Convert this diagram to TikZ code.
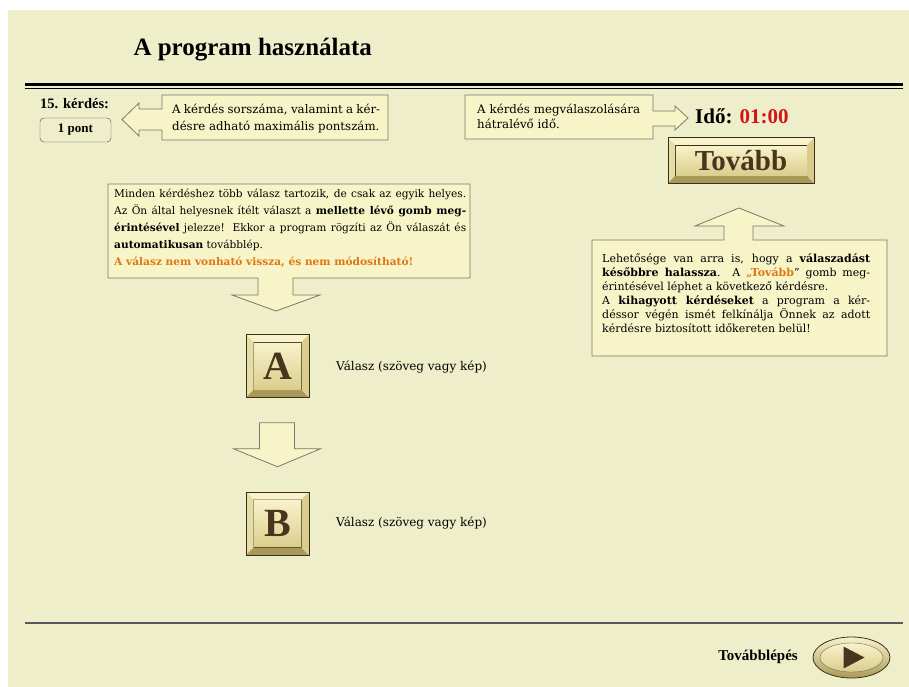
\documentclass[tikz,border=0pt]{standalone}
\usepackage{fontspec}
\setmainfont{Liberation Serif}
\newfontfamily\boxfont{DejaVu Serif}
\usetikzlibrary{calc,shapes.geometric}

\definecolor{pagebg}{RGB}{239,238,202}
\definecolor{notefill}{RGB}{247,244,200}
\definecolor{noteline}{RGB}{118,122,104}
\definecolor{warnorange}{RGB}{222,118,20}
\definecolor{timered}{RGB}{210,20,20}
\definecolor{btnbrown}{RGB}{75,52,30}
\definecolor{goldhi}{RGB}{248,243,204}
\definecolor{goldmid}{RGB}{218,205,140}
\definecolor{goldlo}{RGB}{170,152,88}
\definecolor{golddk}{RGB}{58,48,24}

\tikzset{
  note/.style={draw=noteline, fill=notefill, line width=0.8pt},
  notetext/.style={anchor=west, inner sep=0pt, align=justify},
  face/.style={draw=golddk, line width=0.6pt, inner sep=0pt, outer sep=0pt,
    top color=goldhi, bottom color=goldmid, text=btnbrown},
}

% gold bevel round a face node: #1 node, #2 frame width
\newcommand{\goldframe}[2]{
  \coordinate (#1-onw) at ($(#1.north west)+(-#2,-#2)$);
  \coordinate (#1-one) at ($(#1.north east)+(#2,-#2)$);
  \coordinate (#1-ose) at ($(#1.south east)+(#2,#2)$);
  \coordinate (#1-osw) at ($(#1.south west)+(-#2,#2)$);
  \fill[goldhi] (#1-onw) -- (#1-one) -- (#1.north east) -- (#1.north west) -- cycle;
  \fill[goldmid!60!goldhi] (#1-onw) -- (#1.north west) -- (#1.south west) -- (#1-osw) -- cycle;
  \fill[goldlo] (#1-osw) -- (#1-ose) -- (#1.south east) -- (#1.south west) -- cycle;
  \fill[goldmid] (#1-one) -- (#1-ose) -- (#1.south east) -- (#1.north east) -- cycle;
  \draw[golddk, line width=1pt] (#1-onw) rectangle (#1-ose);
}

\begin{document}
\begin{tikzpicture}[x=1pt,y=-1pt]
\useasboundingbox (0,0) rectangle (909,687);
\fill[white] (0,0) rectangle (909,687);
\fill[pagebg] (8,10) rectangle (909,687);

\node[anchor=west, font=\bfseries\fontsize{25}{28}\selectfont] (title) at (130,50) {A program használata};
\draw[line width=3pt] (25,84.5) -- (903,84.5);
\draw[line width=1.5pt] (25,88.5) -- (903,88.5);

\node[anchor=west, inner sep=0pt, font=\bfseries\fontsize{14.5}{16}\selectfont] (qnum) at (40,104) {15. kérdés:};
\node[draw=black!70, rounded corners=4pt, minimum width=71, minimum height=24, font=\bfseries\fontsize{13}{15}\selectfont] (points) at (75.5,130) {1 pont};

\path[note] (162,95) -- (388,95) -- (388,140) -- (162,140) -- (162,130) -- (139,130) -- (139,136)
  -- (122,119.5) -- (139,103) -- (139,109) -- (162,109) -- cycle;
\node[notetext, text width=208, font=\boxfont\fontsize{11.8}{17}\selectfont] (qinfo) at (172,119)
  {A kérdés sorszáma, valamint a kér-\linebreak désre adható maximális pontszám.};

\path[note] (465,95) -- (653,95) -- (653,111) -- (675,111) -- (675,106) -- (688,118) -- (675,130)
  -- (675,126) -- (653,126) -- (653,139) -- (465,139) -- cycle;
\node[notetext, text width=172, align=left, font=\boxfont\fontsize{11.8}{15}\selectfont] (tinfo) at (477,116)
  {A kérdés megválaszolására\\hátralévő idő.};

\node[anchor=west, inner sep=0pt, font=\bfseries\fontsize{21}{24}\selectfont] (time) at (695,116) {Idő: \textcolor{timered}{01:00}};

\node[face, minimum width=132, minimum height=31, font=\bfseries\fontsize{29}{30}\selectfont] (next) at (741,160.5) {Tovább};
\goldframe{next}{7}

\path[note] (108,184) -- (470,184) -- (470,278) -- (293,278) -- (293,295) -- (320,295) -- (276,311)
  -- (232,295) -- (258,295) -- (258,278) -- (108,278) -- cycle;
\node[notetext, text width=352, font=\boxfont\fontsize{10.6}{17}\selectfont] (rules) at (114,228)
  {Minden kérdéshez több válasz tartozik, de csak az egyik helyes.\linebreak
   Az Ön által helyesnek ítélt választ a \textbf{mellette lévő gomb meg-}\linebreak
   \textbf{érintésével} jelezze! Ekkor a program rögzíti az Ön válaszát és\linebreak
   \textbf{automatikusan} továbblép.\\
   \textcolor{warnorange}{\textbf{A válasz nem vonható vissza, és nem módosítható!}}};

\path[note] (592,240) -- (724,240) -- (724,226) -- (695,226) -- (739,208) -- (784,226) -- (753,226)
  -- (753,240) -- (887,240) -- (887,356) -- (592,356) -- cycle;
\node[notetext, text width=268, font=\boxfont\fontsize{11}{14}\selectfont] (later) at (602,293)
  {Lehetősége van arra is, hogy a \textbf{válaszadást}\linebreak
   \textbf{későbbre halassza}. A \textcolor{warnorange}{\textbf{„Tovább}}” gomb meg-\linebreak
   érintésével léphet a következő kérdésre.\\
   A \textbf{kihagyott kérdéseket} a program a kér-\linebreak
   déssor végén ismét felkínálja Önnek az adott\linebreak
   kérdésre biztosított időkereten belül!};

\node[face, minimum size=48, font=\bfseries\fontsize{40}{40}\selectfont] (ansA) at (277.5,366) {A};
\goldframe{ansA}{7.5}
\node[anchor=west, inner sep=0pt, font=\boxfont\fontsize{12}{14}\selectfont] (textA) at (336,367) {Válasz (szöveg vagy kép)};

\node[face, minimum size=48, font=\bfseries\fontsize{40}{40}\selectfont] (ansB) at (277.5,523.5) {B};
\goldframe{ansB}{7.5}
\node[anchor=west, inner sep=0pt, font=\boxfont\fontsize{12}{14}\selectfont] (textB) at (336,523) {Válasz (szöveg vagy kép)};

\coordinate (flow) at ($(ansA.south)!0.5!(ansB.north)$);
\path[note] ($(flow)+(-18,-22)$) -- ($(flow)+(17,-22)$) -- ($(flow)+(17,4)$) -- ($(flow)+(43,4)$)
  -- ($(flow)+(0,22)$) -- ($(flow)+(-44,4)$) -- ($(flow)+(-18,4)$) -- cycle;

\draw[line width=1.5pt, black!65] (25,623) -- (903,623);
\node[anchor=east, inner sep=0pt, font=\bfseries\fontsize{15}{17}\selectfont] (go) at (798,657) {Továbblépés};
\node[ellipse, minimum width=77, minimum height=41, draw=golddk, line width=0.8pt, top color=goldhi, bottom color=goldlo] (play) at (851.5,657.5) {};
\node[ellipse, minimum width=63, minimum height=29, draw=golddk!70, top color=goldhi, bottom color=goldmid] (playface) at (play.center) {};
\fill[btnbrown] ($(playface.center)+(-8,-11)$) -- ($(playface.center)+(13,0)$) -- ($(playface.center)+(-8,11)$) -- cycle;
\end{tikzpicture}
\end{document}
